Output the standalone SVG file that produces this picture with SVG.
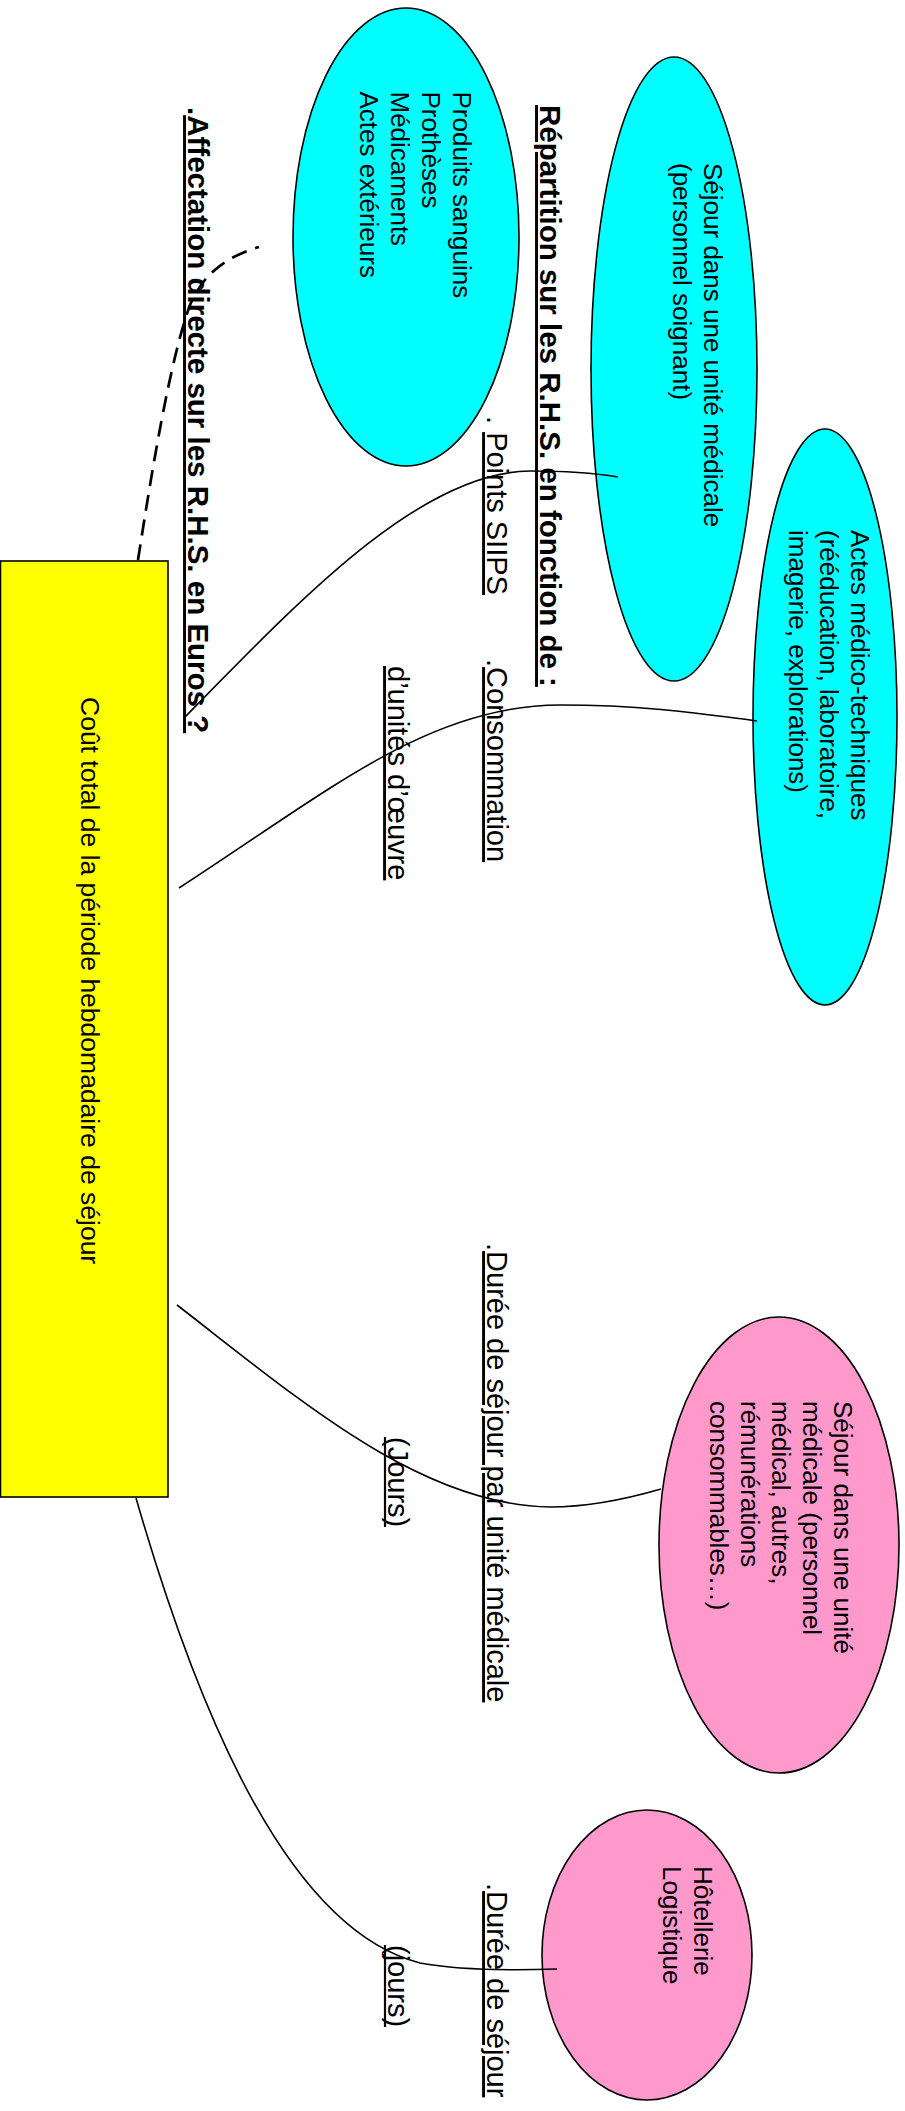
<svg xmlns="http://www.w3.org/2000/svg" width="905" height="2111" viewBox="0 0 905 2111">
<style>
text{font-family:"Liberation Sans",Arial,sans-serif;fill:#000}
.t26{font-size:26px}
.lab{font-size:29px}
.b{font-weight:bold;font-size:29.5px}
.u{text-decoration:underline;text-decoration-skip-ink:none}
.ul{stroke:#000;stroke-width:2.2}
.cyan{fill:#00FFFF;stroke:#000;stroke-width:1.6}
.pink{fill:#FF99CC;stroke:#000;stroke-width:1.6}
.con{fill:none;stroke:#000;stroke-width:1.6}
.dash{fill:none;stroke:#000;stroke-width:2.7;stroke-dasharray:16 9}
</style>
<rect width="905" height="2111" fill="#fff"/>
<g id="cout">
<rect x="0.5" y="561" width="167.5" height="936" fill="#FFFF00" stroke="#000" stroke-width="1.6"/>
<text class="t26" style="font-size:26.5px" transform="translate(81,697) rotate(90)">Coût total de la période hebdomadaire de séjour</text>
</g>
<g id="produits">
<ellipse class="cyan" cx="406" cy="237" rx="113" ry="229"/>
<text class="t26" transform="translate(453,91.5) rotate(90)"><tspan x="0" y="0">Produits sanguins</tspan><tspan x="0" y="31">Prothèses</tspan><tspan x="0" y="62">Médicaments</tspan><tspan x="0" y="93">Actes extérieurs</tspan></text>
</g>
<g id="sejour-soignant">
<ellipse class="cyan" cx="674" cy="369" rx="83" ry="312"/>
<text class="t26" transform="translate(704,163) rotate(90)"><tspan x="0" y="0">Séjour dans une unité médicale</tspan><tspan x="0" y="31">(personnel soignant)</tspan></text>
</g>
<g id="actes-mt">
<ellipse class="cyan" cx="825" cy="717" rx="72" ry="288"/>
<text class="t26" transform="translate(851,530) rotate(90)"><tspan x="0" y="0">Actes médico-techniques</tspan><tspan x="0" y="31">(rééducation, laboratoire,</tspan><tspan x="0" y="62">imagerie, explorations)</tspan></text>
</g>
<g id="sejour-medical">
<ellipse class="pink" cx="779" cy="1545" rx="120" ry="228"/>
<text class="t26" transform="translate(834,1401) rotate(90)"><tspan x="0" y="0">Séjour dans une unité</tspan><tspan x="0" y="31">médicale (personnel</tspan><tspan x="0" y="62">médical, autres,</tspan><tspan x="0" y="93">rémunérations</tspan><tspan x="0" y="124">consommables…)</tspan></text>
</g>
<g id="hotellerie">
<ellipse class="pink" cx="647" cy="1955" rx="105" ry="145"/>
<text class="t26" transform="translate(694,1866) rotate(90)"><tspan x="0" y="0">Hôtellerie</tspan><tspan x="0" y="31">Logistique</tspan></text>
</g>
<g id="labels">
<text class="lab b u" transform="translate(540,105) rotate(90)">Répartition sur les R.H.S. en fonction de :</text>
<text class="lab b" transform="translate(188,107) rotate(90)">.<tspan class="u">Affectation directe sur les R.H.S. en Euros ?</tspan></text>
<text class="lab" transform="translate(487,416) rotate(90)">. <tspan class="u">Points SIIPS</tspan></text>
<text class="lab" transform="translate(487,659) rotate(90)">.<tspan class="u">Consommation</tspan></text>
<text class="lab u" transform="translate(388,666) rotate(90)">d’unités d’œuvre</text>
<text class="lab" transform="translate(487,1243) rotate(90)">.<tspan class="u">Durée de séjour par unité médicale</tspan></text>
<text class="lab" transform="translate(388,1437) rotate(90)">(Jours)</text>
<line class="ul" x1="385" y1="1437" x2="385" y2="1527"/>
<text class="lab" transform="translate(487,1883) rotate(90)">.<tspan class="u">Durée de séjour</tspan></text>
<text class="lab" transform="translate(388,1945) rotate(90)">(jours)</text>
<line class="ul" x1="385" y1="1945" x2="385" y2="2027"/>
</g>
<g id="connectors">
<path class="dash" d="M138,560 C152,470 170,360 190,305 C205,270 230,256 259,247"/>
<path class="con" d="M184,718 C300,600 420,472 530,471 C570,471 600,474 618,477"/>
<path class="con" d="M179,888 C330,790 430,705 560,705 C650,705 710,715 757,721"/>
<path class="con" d="M177,1305 C300,1400 420,1505 550,1507 C590,1507 630,1498 661,1489"/>
<path class="con" d="M136,1498 C200,1720 290,1930 420,1963 Q470,1972 557,1969"/>
</g>
</svg>
